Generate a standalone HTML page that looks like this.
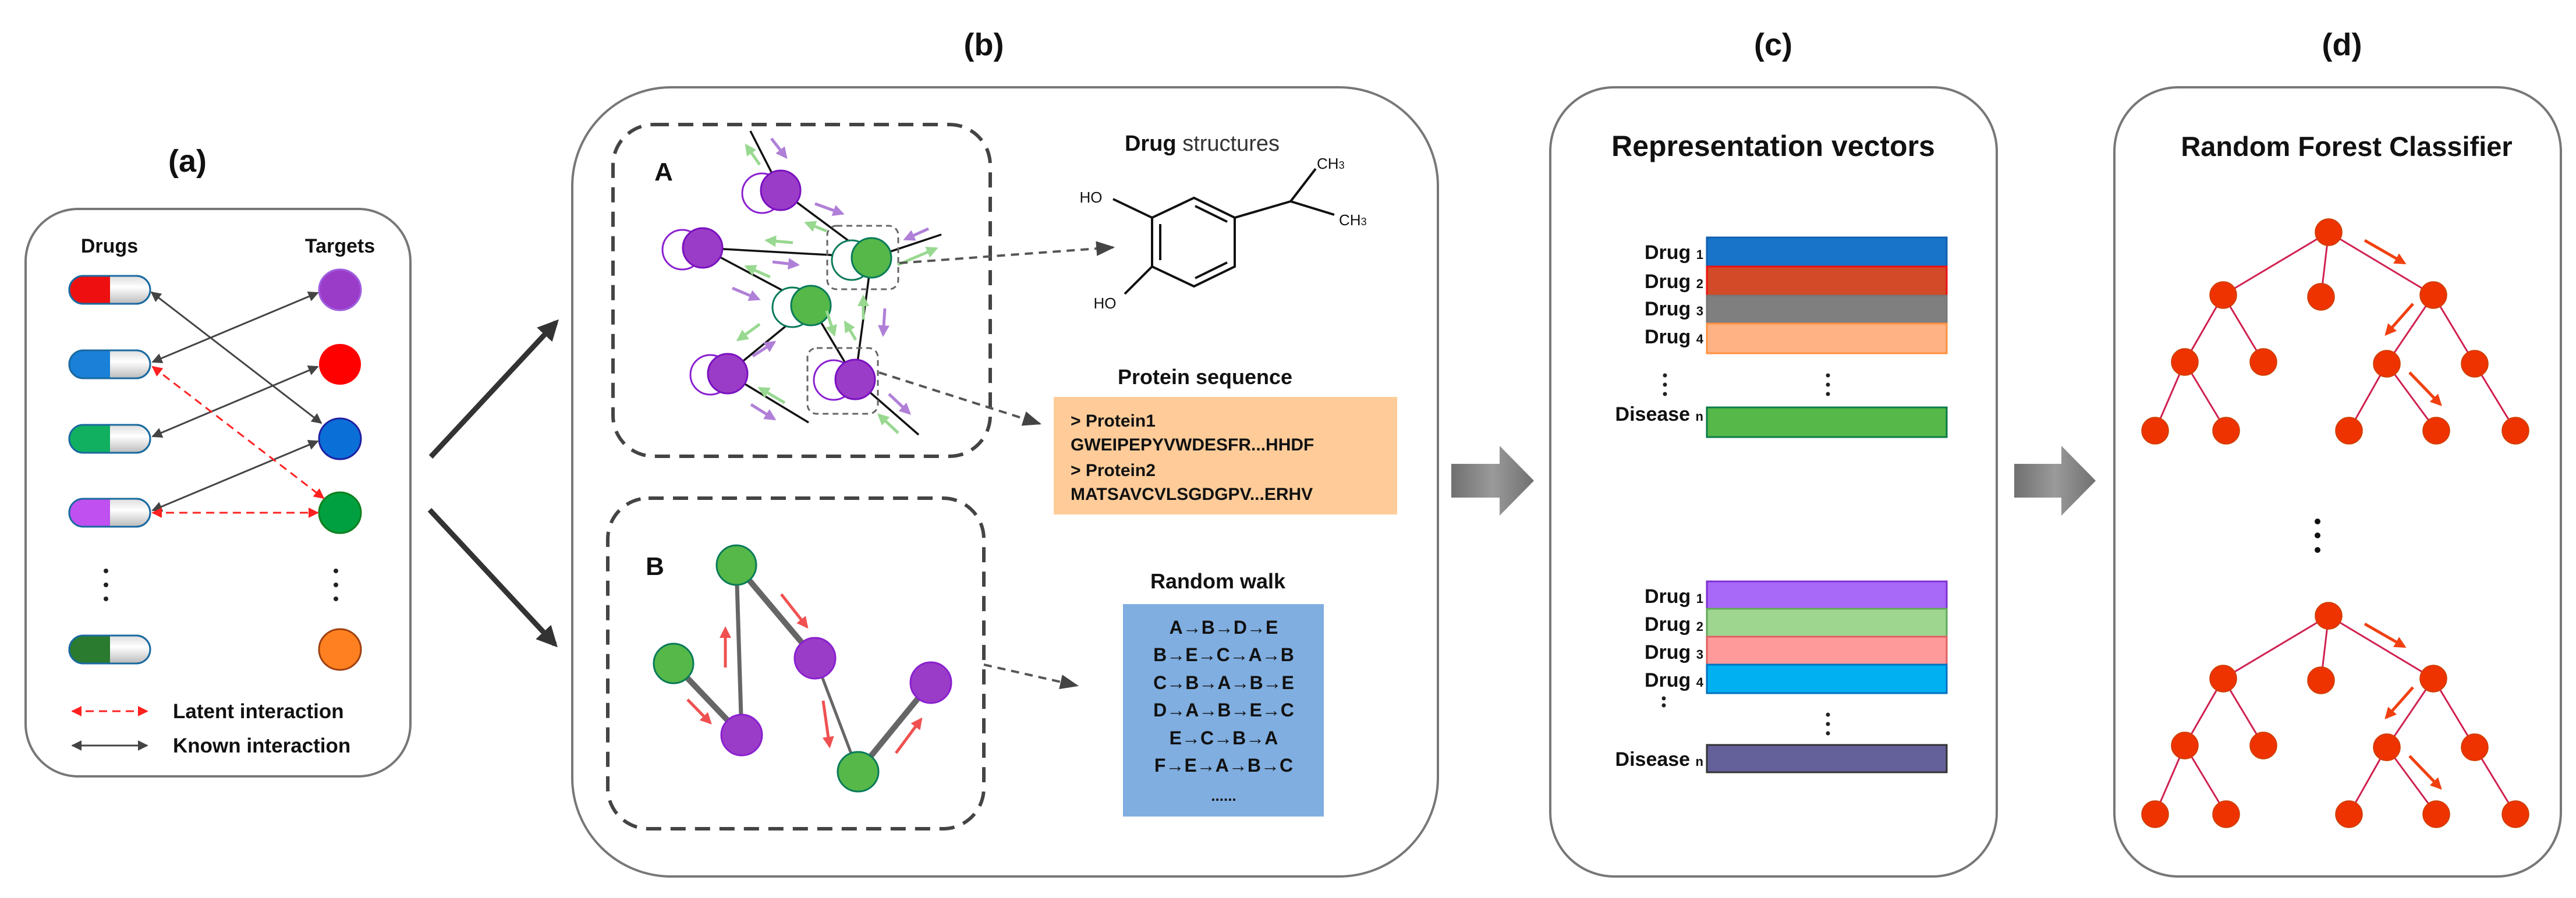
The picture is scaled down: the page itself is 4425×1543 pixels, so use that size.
<!DOCTYPE html>
<html><head><meta charset="utf-8"><style>
html,body{margin:0;padding:0;background:#fff;}
svg{display:block;}
text{font-family:"Liberation Sans",sans-serif;font-weight:bold;fill:#111;}
</style></head><body>
<svg width="4425" height="1543" viewBox="0 0 4425 1543" xmlns="http://www.w3.org/2000/svg">
<defs>
<marker id="mk" viewBox="0 0 10 10" refX="9" refY="5" markerWidth="6" markerHeight="6" orient="auto-start-reverse"><path d="M0,0 L10,5 L0,10 z" fill="#444"/></marker>
<marker id="mr" viewBox="0 0 10 10" refX="9" refY="5" markerWidth="6" markerHeight="6" orient="auto-start-reverse"><path d="M0,0 L10,5 L0,10 z" fill="#ff2020"/></marker>
<marker id="mb" viewBox="0 0 10 10" refX="8" refY="5" markerWidth="4" markerHeight="4" orient="auto"><path d="M0,0 L10,5 L0,10 z" fill="#333"/></marker>
<marker id="md" viewBox="0 0 10 10" refX="9" refY="5" markerWidth="8" markerHeight="8" orient="auto"><path d="M0,1 L10,5 L0,9 z" fill="#444"/></marker>
<marker id="mo" viewBox="0 0 10 10" refX="8" refY="5" markerWidth="4" markerHeight="4" orient="auto"><path d="M0,0 L10,5 L0,10 z" fill="#f04010"/></marker>
<marker id="mrr" viewBox="0 0 10 10" refX="8" refY="5" markerWidth="4" markerHeight="4" orient="auto"><path d="M0,0 L10,5 L0,10 z" fill="#f05050"/></marker>
<marker id="mp" viewBox="0 0 10 10" refX="8" refY="5" markerWidth="4" markerHeight="4" orient="auto"><path d="M0,0 L10,5 L0,10 z" fill="#b080d8"/></marker>
<marker id="mg" viewBox="0 0 10 10" refX="8" refY="5" markerWidth="4" markerHeight="4" orient="auto"><path d="M0,0 L10,5 L0,10 z" fill="#98d890"/></marker>
<linearGradient id="wh" x1="0" y1="0" x2="0" y2="1"><stop offset="0" stop-color="#ddd"/><stop offset="0.4" stop-color="#fff"/><stop offset="1" stop-color="#bbb"/></linearGradient>
<linearGradient id="ga" x1="0" y1="0" x2="1" y2="0"><stop offset="0" stop-color="#707070"/><stop offset="0.5" stop-color="#9a9a9a"/><stop offset="1" stop-color="#707070"/></linearGradient>
</defs>

<text x="322" y="295" font-size="54" text-anchor="middle">(a)</text>
<text x="1690" y="95" font-size="54" text-anchor="middle">(b)</text>
<text x="3046" y="95" font-size="54" text-anchor="middle">(c)</text>
<text x="4023" y="95" font-size="54" text-anchor="middle">(d)</text>

<!-- Panel a -->
<rect x="44" y="359" width="661" height="975" rx="90" fill="none" stroke="#777" stroke-width="4"/>
<text x="188" y="434" font-size="34" text-anchor="middle">Drugs</text>
<text x="584" y="434" font-size="34" text-anchor="middle">Targets</text>
<g stroke="#1a6aa0" stroke-width="3">
<g><rect x="119" y="474" width="139" height="48" rx="24" fill="url(#wh)"/><path d="M143,474 H189 V522 H143 A24,24 0 0 1 143,474z" fill="#ee1010" stroke="none"/><rect x="119" y="474" width="139" height="48" rx="24" fill="none"/></g>
<g><rect x="119" y="602" width="139" height="48" rx="24" fill="url(#wh)"/><path d="M143,602 H189 V650 H143 A24,24 0 0 1 143,602z" fill="#1a80d8" stroke="none"/><rect x="119" y="602" width="139" height="48" rx="24" fill="none"/></g>
<g><rect x="119" y="730" width="139" height="48" rx="24" fill="url(#wh)"/><path d="M143,730 H189 V778 H143 A24,24 0 0 1 143,730z" fill="#10b060" stroke="none"/><rect x="119" y="730" width="139" height="48" rx="24" fill="none"/></g>
<g><rect x="119" y="857" width="139" height="48" rx="24" fill="url(#wh)"/><path d="M143,857 H189 V905 H143 A24,24 0 0 1 143,857z" fill="#c050f0" stroke="none"/><rect x="119" y="857" width="139" height="48" rx="24" fill="none"/></g>
<g><rect x="119" y="1092" width="139" height="48" rx="24" fill="url(#wh)"/><path d="M143,1092 H189 V1140 H143 A24,24 0 0 1 143,1092z" fill="#2a7a30" stroke="none"/><rect x="119" y="1092" width="139" height="48" rx="24" fill="none"/></g>
</g>
<ellipse cx="584" cy="498" rx="36" ry="35" fill="#9b3cc8" stroke="#a060e0" stroke-width="3"/>
<ellipse cx="584" cy="626" rx="36" ry="35" fill="#ff0000"/>
<ellipse cx="584" cy="754" rx="36" ry="35" fill="#0a70d8" stroke="#2020a0" stroke-width="3"/>
<ellipse cx="584" cy="881" rx="36" ry="35" fill="#00a040" stroke="#108020" stroke-width="3"/>
<ellipse cx="584" cy="1116" rx="36" ry="35" fill="#ff8020" stroke="#a04010" stroke-width="3"/>
<g fill="#222"><circle cx="182" cy="981" r="4"/><circle cx="182" cy="1005" r="4"/><circle cx="182" cy="1029" r="4"/><circle cx="577" cy="981" r="4"/><circle cx="577" cy="1005" r="4"/><circle cx="577" cy="1029" r="4"/></g>
<g stroke="#444" stroke-width="3" fill="none" marker-start="url(#mk)" marker-end="url(#mk)">
<line x1="260" y1="502" x2="552" y2="727"/>
<line x1="262" y1="622" x2="546" y2="503"/>
<line x1="262" y1="750" x2="546" y2="630"/>
<line x1="262" y1="877" x2="546" y2="758"/>
<line x1="124" y1="1281" x2="253" y2="1281"/>
</g>
<g stroke="#ff2020" stroke-width="3" fill="none" stroke-dasharray="14,9" marker-start="url(#mr)" marker-end="url(#mr)">
<line x1="262" y1="630" x2="556" y2="856"/>
<line x1="262" y1="881" x2="546" y2="881"/>
<line x1="124" y1="1222" x2="253" y2="1222"/>
</g>
<text x="297" y="1234" font-size="35">Latent interaction</text>
<text x="297" y="1293" font-size="35">Known interaction</text>

<g stroke="#333" stroke-width="9" marker-end="url(#mb)"><line x1="740" y1="785" x2="955" y2="554"/><line x1="738" y1="876" x2="953" y2="1107"/></g>

<!-- Panel b -->
<rect x="983" y="150" width="1487" height="1356" rx="170" fill="none" stroke="#777" stroke-width="4"/>
<rect x="1053" y="214" width="648" height="570" rx="70" fill="none" stroke="#444" stroke-width="6" stroke-dasharray="26,16"/>
<rect x="1044" y="856" width="646" height="568" rx="70" fill="none" stroke="#444" stroke-width="6" stroke-dasharray="26,16"/>
<text x="1140" y="310" font-size="44" text-anchor="middle">A</text>
<text x="1125" y="988" font-size="44" text-anchor="middle">B</text>
<g stroke="#111" stroke-width="3.5">
<line x1="1289" y1="225" x2="1341" y2="327"/><line x1="1341" y1="327" x2="1497" y2="443"/><line x1="1207" y1="426" x2="1460" y2="440"/><line x1="1207" y1="426" x2="1393" y2="525"/><line x1="1393" y1="525" x2="1250" y2="642"/><line x1="1393" y1="525" x2="1469" y2="652"/><line x1="1497" y1="443" x2="1469" y2="652"/><line x1="1497" y1="443" x2="1617" y2="403"/><line x1="1250" y1="642" x2="1389" y2="726"/><line x1="1469" y1="652" x2="1578" y2="747"/>
</g>
<g stroke="#666" stroke-width="3" fill="none" stroke-dasharray="10,7"><rect x="1421" y="388" width="122" height="109" rx="16"/><rect x="1387" y="598" width="121" height="113" rx="16"/></g>
<g stroke-width="3">
<circle cx="1309" cy="332" r="34" fill="#fff" stroke="#8a20d0"/><circle cx="1341" cy="327" r="34" fill="#9b3cc8" stroke="#7a10c0"/>
<circle cx="1172" cy="429" r="34" fill="#fff" stroke="#8a20d0"/><circle cx="1207" cy="426" r="34" fill="#9b3cc8" stroke="#7a10c0"/>
<circle cx="1463" cy="447" r="34" fill="#fff" stroke="#0a7a5a"/><circle cx="1497" cy="443" r="34" fill="#55b848" stroke="#0a7a5a"/>
<circle cx="1361" cy="528" r="34" fill="#fff" stroke="#0a7a5a"/><circle cx="1393" cy="525" r="34" fill="#55b848" stroke="#0a7a5a"/>
<circle cx="1220" cy="644" r="34" fill="#fff" stroke="#8a20d0"/><circle cx="1250" cy="642" r="34" fill="#9b3cc8" stroke="#7a10c0"/>
<circle cx="1432" cy="653" r="34" fill="#fff" stroke="#8a20d0"/><circle cx="1469" cy="652" r="34" fill="#9b3cc8" stroke="#7a10c0"/>
</g>
<g stroke-width="5">
<g stroke="#98d890" marker-end="url(#mg)"><line x1="1305" y1="283" x2="1282" y2="250"/><line x1="1420" y1="397" x2="1385" y2="383"/><line x1="1362" y1="417" x2="1317" y2="413"/><line x1="1323" y1="476" x2="1282" y2="458"/><line x1="1305" y1="557" x2="1268" y2="584"/><line x1="1348" y1="692" x2="1305" y2="667"/><line x1="1542" y1="455" x2="1608" y2="427"/><line x1="1483" y1="549" x2="1483" y2="510"/><line x1="1420" y1="534" x2="1433" y2="575"/><line x1="1543" y1="744" x2="1510" y2="713"/><line x1="1470" y1="584" x2="1452" y2="554"/></g>
<g stroke="#b080d8" marker-end="url(#mp)"><line x1="1325" y1="238" x2="1350" y2="270"/><line x1="1400" y1="350" x2="1447" y2="367"/><line x1="1595" y1="393" x2="1555" y2="411"/><line x1="1327" y1="450" x2="1370" y2="455"/><line x1="1258" y1="495" x2="1303" y2="514"/><line x1="1293" y1="612" x2="1330" y2="588"/><line x1="1290" y1="695" x2="1330" y2="720"/><line x1="1520" y1="530" x2="1517" y2="575"/><line x1="1527" y1="677" x2="1562" y2="710"/></g>
</g>
<g stroke="#666" stroke-linecap="round">
<line x1="1157" y1="1140" x2="1274" y2="1263" stroke-width="10"/>
<line x1="1265" y1="971" x2="1274" y2="1263" stroke-width="7"/>
<line x1="1265" y1="971" x2="1400" y2="1131" stroke-width="10"/>
<line x1="1400" y1="1131" x2="1474" y2="1326" stroke-width="5"/>
<line x1="1474" y1="1326" x2="1599" y2="1173" stroke-width="10"/>
</g>
<g stroke-width="3">
<ellipse cx="1265" cy="971" rx="34" ry="34" fill="#55b848" stroke="#0a7a5a"/>
<ellipse cx="1157" cy="1140" rx="34" ry="34" fill="#55b848" stroke="#0a7a5a"/>
<ellipse cx="1274" cy="1263" rx="35" ry="35" fill="#9b3cc8" stroke="#8a20d0"/>
<ellipse cx="1400" cy="1131" rx="35" ry="35" fill="#9b3cc8" stroke="#8a20d0"/>
<ellipse cx="1474" cy="1326" rx="35" ry="34" fill="#55b848" stroke="#0a7a5a"/>
<ellipse cx="1599" cy="1173" rx="35" ry="35" fill="#9b3cc8" stroke="#8a20d0"/>
</g>
<g stroke="#f05050" stroke-width="5" marker-end="url(#mrr)">
<line x1="1181" y1="1202" x2="1220" y2="1242"/><line x1="1246" y1="1147" x2="1246" y2="1080"/><line x1="1342" y1="1021" x2="1386" y2="1077"/><line x1="1414" y1="1204" x2="1425" y2="1282"/><line x1="1539" y1="1294" x2="1582" y2="1236"/>
</g>
<g stroke="#555" stroke-width="4" stroke-dasharray="14,10" fill="none" marker-end="url(#md)">
<line x1="1545" y1="452" x2="1912" y2="425"/>
<line x1="1510" y1="640" x2="1786" y2="728"/>
<line x1="1690" y1="1142" x2="1850" y2="1178"/>
</g>
<text x="2065" y="259" font-size="38" text-anchor="middle">Drug <tspan font-weight="normal" fill="#333">structures</tspan></text>
<g stroke="#111" stroke-width="4" fill="none">
<polygon points="1979,374 2051,340 2121,374 2121,458 2051,492 1979,458"/>
<line x1="1993" y1="385" x2="1993" y2="447"/><line x1="2053" y1="354" x2="2108" y2="381"/><line x1="2053" y1="478" x2="2108" y2="451"/>
<line x1="1979" y1="374" x2="1912" y2="342"/><line x1="1979" y1="458" x2="1932" y2="505"/>
<line x1="2121" y1="374" x2="2217" y2="346"/><line x1="2217" y1="346" x2="2260" y2="290"/><line x1="2217" y1="346" x2="2292" y2="369"/>
</g>
<text x="1874" y="348" font-size="26" text-anchor="middle" style="font-weight:normal">HO</text>
<text x="1898" y="530" font-size="26" text-anchor="middle" style="font-weight:normal">HO</text>
<text x="2262" y="290" font-size="26" style="font-weight:normal">CH<tspan font-size="18">3</tspan></text>
<text x="2300" y="387" font-size="26" style="font-weight:normal">CH<tspan font-size="18">3</tspan></text>
<text x="2070" y="660" font-size="36" text-anchor="middle">Protein sequence</text>
<rect x="1810" y="682" width="590" height="202" fill="#ffcc99"/>
<g font-size="30"><text x="1839" y="733">&gt; Protein1</text><text x="1839" y="774">GWEIPEPYVWDESFR...HHDF</text><text x="1839" y="818">&gt; Protein2</text><text x="1839" y="859">MATSAVCVLSGDGPV...ERHV</text></g>
<text x="2092" y="1011" font-size="36" text-anchor="middle">Random walk</text>
<rect x="1929" y="1038" width="345" height="365" fill="#80aee0"/>
<g font-size="32" text-anchor="middle"><text x="2102" y="1089">A→B→D→E</text><text x="2102" y="1136">B→E→C→A→B</text><text x="2102" y="1184">C→B→A→B→E</text><text x="2102" y="1231">D→A→B→E→C</text><text x="2102" y="1279">E→C→B→A</text><text x="2102" y="1326">F→E→A→B→C</text><text x="2102" y="1376" font-size="26">......</text></g>

<path d="M2493,797 H2576 V766 L2635,826 L2576,886 V855 H2493 Z" fill="url(#ga)"/>
<path d="M3460,797 H3541 V766 L3600,826 L3541,886 V855 H3460 Z" fill="url(#ga)"/>

<!-- Panel c -->
<rect x="2663" y="150" width="767" height="1356" rx="110" fill="none" stroke="#777" stroke-width="4"/>
<text x="3046" y="268" font-size="50" text-anchor="middle">Representation vectors</text>
<g stroke-width="3">
<rect x="2932" y="408" width="412" height="50" fill="#1874c8" stroke="#1060b0"/>
<rect x="2932" y="458" width="412" height="50" fill="#d24a28" stroke="#ee1010"/>
<rect x="2932" y="508" width="412" height="48" fill="#7f7f7f" stroke="#777"/>
<rect x="2932" y="556" width="412" height="51" fill="#ffb284" stroke="#ff9040"/>
<rect x="2932" y="700" width="412" height="51" fill="#55b848" stroke="#0a7a4a"/>
<rect x="2932" y="999" width="412" height="47" fill="#a868f8" stroke="#8030d0"/>
<rect x="2932" y="1046" width="412" height="48" fill="#9ed690" stroke="#60a858"/>
<rect x="2932" y="1094" width="412" height="48" fill="#ff9a9a" stroke="#e06060"/>
<rect x="2932" y="1142" width="412" height="49" fill="#00b0f0" stroke="#0070c0"/>
<rect x="2932" y="1280" width="412" height="47" fill="#64609a" stroke="#333"/>
</g>
<g font-size="34" text-anchor="end">
<text x="2926" y="445">Drug <tspan font-size="22">1</tspan></text>
<text x="2926" y="495">Drug <tspan font-size="22">2</tspan></text>
<text x="2926" y="542">Drug <tspan font-size="22">3</tspan></text>
<text x="2926" y="590">Drug <tspan font-size="22">4</tspan></text>
<text x="2926" y="723">Disease <tspan font-size="22">n</tspan></text>
<text x="2926" y="1036">Drug <tspan font-size="22">1</tspan></text>
<text x="2926" y="1084">Drug <tspan font-size="22">2</tspan></text>
<text x="2926" y="1132">Drug <tspan font-size="22">3</tspan></text>
<text x="2926" y="1180">Drug <tspan font-size="22">4</tspan></text>
<text x="2926" y="1316">Disease <tspan font-size="22">n</tspan></text>
</g>
<g fill="#222"><circle cx="2860" cy="645" r="3.5"/><circle cx="2860" cy="661" r="3.5"/><circle cx="2860" cy="677" r="3.5"/><circle cx="3140" cy="645" r="3.5"/><circle cx="3140" cy="661" r="3.5"/><circle cx="3140" cy="677" r="3.5"/>
<circle cx="2858" cy="1200" r="3.5"/><circle cx="2858" cy="1212" r="3.5"/><circle cx="3140" cy="1228" r="3.5"/><circle cx="3140" cy="1244" r="3.5"/><circle cx="3140" cy="1260" r="3.5"/></g>

<!-- Panel d -->
<rect x="3632" y="150" width="767" height="1356" rx="110" fill="none" stroke="#777" stroke-width="4"/>
<text x="4031" y="268" font-size="47" text-anchor="middle">Random Forest Classifier</text>
<g id="tree">
<g stroke="#d02050" stroke-width="3">
<line x1="4000" y1="399" x2="3819" y2="507"/><line x1="4000" y1="399" x2="3987" y2="510"/><line x1="4000" y1="399" x2="4180" y2="507"/>
<line x1="3819" y1="507" x2="3753" y2="622"/><line x1="3819" y1="507" x2="3888" y2="622"/>
<line x1="4180" y1="507" x2="4100" y2="625"/><line x1="4180" y1="507" x2="4251" y2="625"/>
<line x1="3753" y1="622" x2="3702" y2="740"/><line x1="3753" y1="622" x2="3824" y2="740"/>
<line x1="4100" y1="625" x2="4035" y2="740"/><line x1="4100" y1="625" x2="4185" y2="740"/>
<line x1="4251" y1="625" x2="4321" y2="740"/>
</g>
<g fill="#ee3300" stroke="#c84000" stroke-width="1.5">
<circle cx="4000" cy="399" r="23"/><circle cx="3819" cy="507" r="23"/><circle cx="3987" cy="510" r="23"/><circle cx="4180" cy="507" r="23"/>
<circle cx="3753" cy="622" r="23"/><circle cx="3888" cy="622" r="23"/><circle cx="4100" cy="625" r="23"/><circle cx="4251" cy="625" r="23"/>
<circle cx="3702" cy="740" r="23"/><circle cx="3824" cy="740" r="23"/><circle cx="4035" cy="740" r="23"/><circle cx="4185" cy="740" r="23"/><circle cx="4321" cy="740" r="23"/>
</g>
<g stroke="#f04010" stroke-width="5" marker-end="url(#mo)">
<line x1="4062" y1="413" x2="4130" y2="452"/><line x1="4145" y1="522" x2="4099" y2="574"/><line x1="4139" y1="640" x2="4192" y2="695"/>
</g>
</g>
<use href="#tree" transform="translate(0,659)"/>
<g fill="#111"><circle cx="3981" cy="896" r="5"/><circle cx="3981" cy="920" r="5"/><circle cx="3981" cy="945" r="5"/></g>
</svg>
</body></html>
